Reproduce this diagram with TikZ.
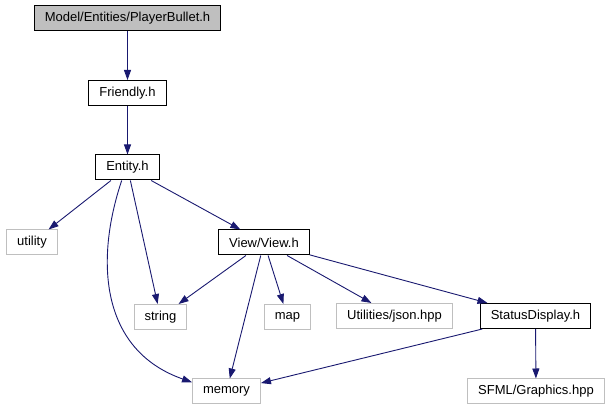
\documentclass[tikz,border=0pt]{standalone}
\usepackage{fontspec}
\setmainfont{Liberation Sans}
\usepackage{xcolor}
\usetikzlibrary{arrows.meta}

\definecolor{edgeblue}{HTML}{191970}
\definecolor{boxgray}{HTML}{BFBFBF}

\begin{document}
\begin{tikzpicture}[x=1pt, y=-1pt,
    box/.style={rectangle, draw=black, line width=1pt, inner xsep=10.5pt,
                inner ysep=0pt, minimum height=25pt,
                font=\fontsize{13}{15}\selectfont},
    ext/.style={box, draw=boxgray},
    arrow/.style={-{Triangle[length=10pt, width=7pt]}, draw=edgeblue,
                  line width=0.9pt}]
  \useasboundingbox (0,0) rectangle (611,411);
  \node[box, fill=boxgray] (bullet) at (127.5,18.5) {Model/Entities/PlayerBullet.h};
  \node[box] (friendly) at (127.5,93) {Friendly.h};
  \node[box] (entity) at (127.5,167.5) {Entity.h};
  \node[ext] (utility) at (32,242.5) {utility};
  \node[box] (view) at (264,242.5) {View/View.h};
  \node[ext] (string) at (160.5,317) {string};
  \node[ext] (map) at (287.5,317) {map};
  \node[ext] (json) at (394.5,316) {Utilities/json.hpp};
  \node[box] (status) at (535.5,316) {StatusDisplay.h};
  \node[ext] (memory) at (226.5,391.5) {memory};
  \node[ext] (sfml) at (536,391.5) {SFML/Graphics.hpp};
  \draw[arrow] (bullet) -- (friendly);
  \draw[arrow] (friendly) -- (entity);
  \draw[arrow] (entity) -- (utility);
  \draw[arrow] (entity) -- (view);
  \draw[arrow] (entity) -- (string);
  \draw[arrow] (entity.246) .. controls (95,260) and (100,350) .. (memory.165);
  \draw[arrow] (view) -- (string);
  \draw[arrow] (view) -- (memory);
  \draw[arrow] (view) -- (map);
  \draw[arrow] (view) -- (json);
  \draw[arrow] (view) -- (status);
  \draw[arrow] (status) -- (memory);
  \draw[arrow] (status) -- (sfml);
\end{tikzpicture}
\end{document}
